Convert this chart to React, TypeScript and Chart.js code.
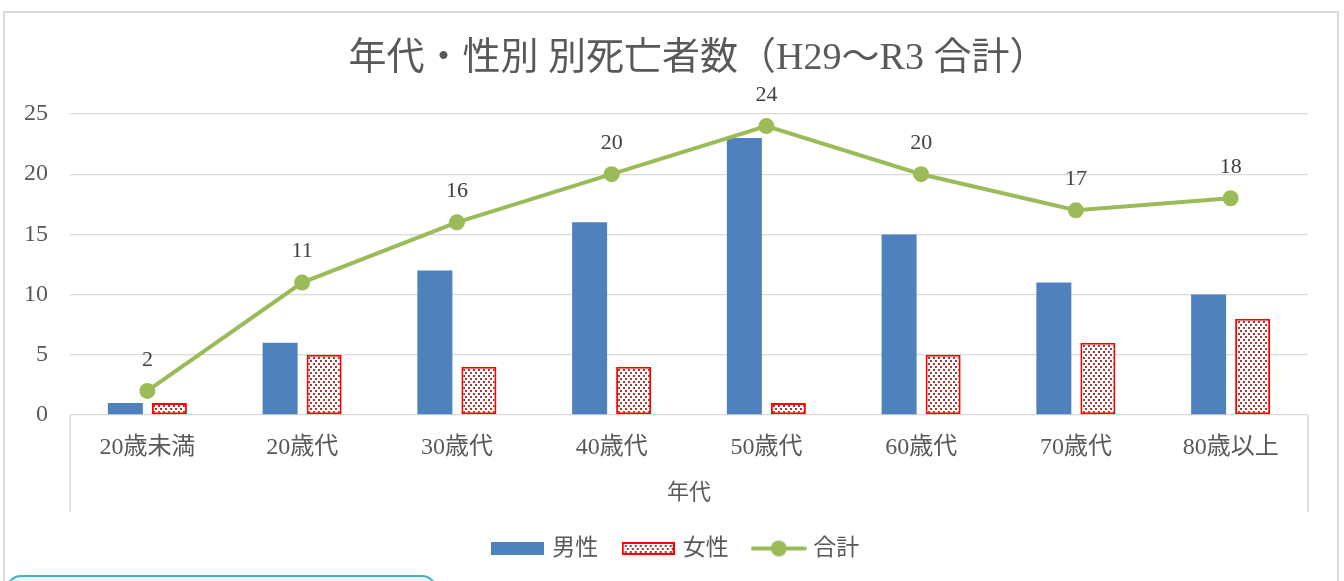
import React, { useEffect, useRef } from "react";
import { Chart, registerables } from "chart.js";

Chart.register(...registerables);

const categories = ["20歳未満", "20歳代", "30歳代", "40歳代", "50歳代", "60歳代", "70歳代", "80歳以上"];
const maleValues = [1, 6, 12, 16, 23, 15, 11, 10];
const femaleValues = [1, 5, 4, 4, 1, 5, 6, 8];
const totalValues = [2, 11, 16, 20, 24, 20, 17, 18];
const seriesNames = ["男性", "女性", "合計"];
const yTicks = [0, 5, 10, 15, 20, 25];
const chartTitle = "年代・性別 別死亡者数（H29～R3 合計）";
const xAxisTitle = "年代";

const FONT = "'Liberation Serif', 'Noto Sans CJK JP', serif";
const BLUE = "#4F81BD";
const RED = "#FF0000";
const DOT = "#A33A36";
const GREEN = "#9BBB59";
const TEXT = "#595959";
const GRID = "#D9D9D9";

function makeDotPattern(): CanvasPattern | string {
  const c = document.createElement("canvas");
  c.width = 5;
  c.height = 6;
  const g = c.getContext("2d");
  if (!g) return "#fff";
  g.fillStyle = "#ffffff";
  g.fillRect(0, 0, 5, 6);
  g.fillStyle = DOT;
  g.fillRect(0, 0, 2, 2);
  g.fillRect(3, 3, 2, 2);
  const p = g.createPattern(c, "repeat");
  return p || "#fff";
}

function makeRectIcon(fill: CanvasPattern | string, stroke?: string) {
  const c = document.createElement("canvas");
  c.width = 53;
  c.height = 13;
  const g = c.getContext("2d")!;
  g.fillStyle = fill as any;
  g.fillRect(0, 0, 53, 13);
  if (stroke) {
    g.strokeStyle = stroke;
    g.lineWidth = 2;
    g.strokeRect(1, 1, 51, 11);
  }
  return c;
}

function makeLineIcon() {
  const c = document.createElement("canvas");
  c.width = 56;
  c.height = 18;
  const g = c.getContext("2d")!;
  g.strokeStyle = GREEN;
  g.lineWidth = 4;
  g.lineCap = "round";
  g.beginPath();
  g.moveTo(2, 9);
  g.lineTo(54, 9);
  g.stroke();
  g.fillStyle = GREEN;
  g.beginPath();
  g.arc(28, 9, 8, 0, Math.PI * 2);
  g.fill();
  return c;
}

const framePlugin = {
  id: "frame",
  afterLayout(chart: any) {
    if (chart.legend) {
      chart.legend.left += 18;
      chart.legend.right += 18;
    }
    if (chart.titleBlock) {
      chart.titleBlock.left += 9;
      chart.titleBlock.right += 9;
    }
  },
  beforeDraw(chart: any) {
    const { ctx, width, height } = chart;
    ctx.save();
    ctx.fillStyle = "#ffffff";
    ctx.fillRect(0, 0, width, height);
    ctx.strokeStyle = GRID;
    ctx.lineWidth = 2;
    ctx.strokeRect(4, 12, 1334, height + 20);
    // category axis box edges
    const area = chart.chartArea;
    ctx.lineWidth = 1.5;
    ctx.beginPath();
    ctx.moveTo(area.left, area.bottom);
    ctx.lineTo(area.left, area.bottom + 97);
    ctx.moveTo(area.right, area.bottom);
    ctx.lineTo(area.right, area.bottom + 97);
    ctx.stroke();
    ctx.restore();
  },
  afterDraw(chart: any) {
    const { ctx } = chart;
    ctx.save();
    ctx.fillStyle = "#E8F6FA";
    ctx.strokeStyle = "#4BACC6";
    ctx.lineWidth = 2;
    ctx.beginPath();
    (ctx as any).roundRect(7, 576, 429, 40, 14);
    ctx.fill();
    ctx.stroke();
    ctx.restore();
  },
};

const labelPlugin = {
  id: "pointLabels",
  afterDatasetsDraw(chart: any) {
    const { ctx } = chart;
    const meta = chart.getDatasetMeta(2);
    ctx.save();
    ctx.font = `22px ${FONT}`;
    ctx.fillStyle = "#404040";
    ctx.textAlign = "center";
    ctx.textBaseline = "middle";
    meta.data.forEach((pt: any, i: number) => {
      ctx.fillText(String(totalValues[i]), pt.x, pt.y - 31);
    });
    ctx.restore();
  },
};

export default function App() {
  const ref = useRef<HTMLCanvasElement | null>(null);

  useEffect(() => {
    if (!ref.current) return;
    const pattern = makeDotPattern();
    const icons = [makeRectIcon(BLUE), makeRectIcon(pattern, RED), makeLineIcon()];

    const chart = new Chart(ref.current, {
      type: "bar",
      data: {
        labels: categories,
        datasets: [
          {
            type: "bar",
            label: seriesNames[0],
            data: maleValues,
            backgroundColor: BLUE,
            borderWidth: 0,
            categoryPercentage: 0.569,
            barPercentage: 0.795,
            order: 1,
          },
          {
            type: "bar",
            label: seriesNames[1],
            data: femaleValues,
            backgroundColor: pattern as any,
            borderColor: RED,
            borderWidth: 2,
            borderSkipped: false,
            categoryPercentage: 0.569,
            barPercentage: 0.795,
            order: 1,
          },
          {
            type: "line",
            label: seriesNames[2],
            data: totalValues,
            borderColor: GREEN,
            backgroundColor: GREEN,
            borderWidth: 4,
            pointRadius: 8,
            pointBackgroundColor: GREEN,
            pointBorderWidth: 0,
            tension: 0,
            order: 0,
          } as any,
        ],
      },
      options: {
        animation: false,
        responsive: false,
        layout: { padding: { left: 10, right: 36, top: 0, bottom: 11 } },
        plugins: {
          title: {
            display: true,
            fullSize: false,
            text: chartTitle,
            color: TEXT,
            font: { family: FONT, size: 38, weight: "normal" },
            padding: { top: 36, bottom: 32.4 },
          },
          legend: {
            position: "bottom",
            labels: {
              usePointStyle: true,
              pointStyleWidth: 46,
              boxHeight: 13,
              padding: 27,
              color: TEXT,
              font: { family: FONT, size: 23 },
              generateLabels: () =>
                seriesNames.map((name, i) => ({
                  text: name,
                  pointStyle: icons[i] as any,
                  datasetIndex: i,
                  hidden: false,
                  fillStyle: "transparent",
                  strokeStyle: "transparent",
                  lineWidth: 0,
                  fontColor: TEXT,
                })),
            },
          },
          tooltip: { enabled: false },
        },
        scales: {
          x: {
            grid: { display: false, drawTicks: false },
            border: { display: false },
            ticks: {
              color: TEXT,
              padding: 18,
              font: { family: FONT, size: 24 },
              maxRotation: 0,
            },
            title: {
              display: true,
              text: xAxisTitle,
              color: TEXT,
              font: { family: FONT, size: 22 },
              padding: { top: 0, bottom: 4 },
            },
            afterFit: (scale: any) => {
              scale.height = 95;
            },
          },
          y: {
            min: 0,
            max: 25,
            afterBuildTicks: (scale: any) => {
              scale.ticks = yTicks.map((v) => ({ value: v }));
            },
            grid: { color: GRID, lineWidth: 1.3, drawTicks: false },
            border: { display: false },
            ticks: {
              color: TEXT,
              padding: 22,
              font: { family: FONT, size: 24 },
            },
            afterFit: (scale: any) => {
              scale.width = 60;
            },
          },
        },
      },
      plugins: [framePlugin, labelPlugin],
    });
    return () => chart.destroy();
  }, []);

  return (
    <div style={{ position: "absolute", left: 0, top: 0, width: 1344, height: 581 }}>
      <canvas ref={ref} width={1344} height={581} style={{ display: "block" }} />
    </div>
  );
}
